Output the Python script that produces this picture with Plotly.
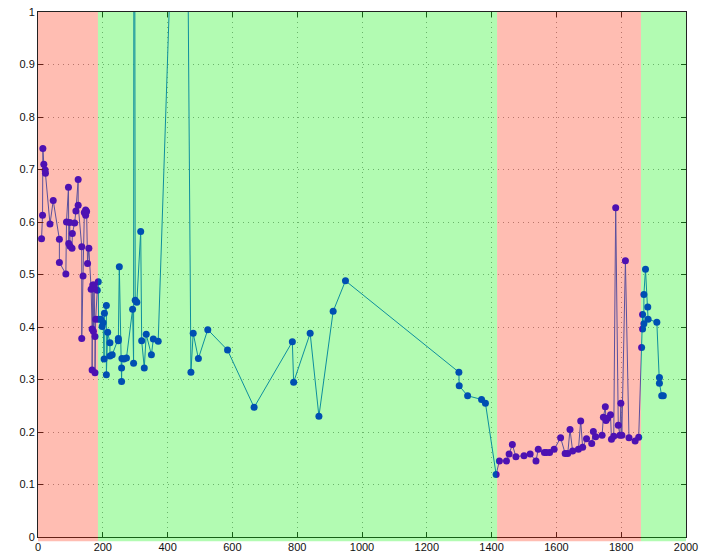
import plotly.graph_objects as go

x_vals = [11, 14, 15, 18, 22, 23, 37, 47, 66, 66, 86, 88, 94, 95, 98, 99, 105, 106, 113, 117,
          124, 124, 135, 135, 139, 143, 147, 147, 150, 153, 157, 164, 167, 167, 169, 171, 173, 176, 176, 178,
          183, 186, 187, 194, 198, 201, 204, 205, 211, 211, 215, 222, 222, 229, 248, 248, 251, 258, 258, 259,
          265, 273, 292, 295, 297, 300, 305, 317, 320, 328, 334, 350, 356, 371, 453, 472, 479, 495, 524, 585,
          667, 785, 789, 840, 867, 911, 949, 1299, 1300, 1326, 1369, 1381, 1414, 1424, 1446, 1454, 1464, 1475, 1500, 1519,
          1537, 1544, 1563, 1569, 1579, 1593, 1613, 1627, 1635, 1642, 1650, 1668, 1675, 1681, 1693, 1709, 1714, 1721, 1741, 1745,
          1751, 1753, 1758, 1767, 1770, 1777, 1783, 1791, 1796, 1799, 1802, 1813, 1824, 1843, 1854, 1863, 1866, 1866, 1870, 1870,
          1875, 1882, 1883, 1910, 1918, 1918, 1925, 1930]
y_vals = [0.568, 0.613, 0.740, 0.710, 0.699, 0.693, 0.596, 0.641, 0.567, 0.523, 0.501, 0.600, 0.666, 0.559, 0.599, 0.554, 0.550, 0.578, 0.598, 0.621,
          0.681, 0.632, 0.553, 0.378, 0.497, 0.618, 0.623, 0.613, 0.620, 0.521, 0.550, 0.472, 0.396, 0.318, 0.480, 0.392, 0.480, 0.382, 0.313, 0.415,
          0.470, 0.486, 0.415, 0.415, 0.401, 0.408, 0.339, 0.426, 0.441, 0.309, 0.390, 0.370, 0.345, 0.347, 0.378, 0.374, 0.515, 0.322, 0.296, 0.340,
          0.339, 0.341, 0.434, 0.331, 2.0, 0.451, 0.447, 0.582, 0.374, 0.322, 0.386, 0.347, 0.377, 0.373, 1.9, 0.314, 0.388, 0.340, 0.395, 0.356,
          0.247, 0.372, 0.295, 0.388, 0.230, 0.430, 0.488, 0.314, 0.288, 0.269, 0.262, 0.255, 0.119, 0.145, 0.145, 0.158, 0.176, 0.153, 0.155, 0.158,
          0.145, 0.167, 0.161, 0.161, 0.161, 0.167, 0.189, 0.159, 0.159, 0.205, 0.164, 0.167, 0.221, 0.171, 0.187, 0.178, 0.201, 0.191, 0.194, 0.228,
          0.248, 0.222, 0.226, 0.233, 0.186, 0.192, 0.627, 0.213, 0.194, 0.255, 0.194, 0.526, 0.189, 0.183, 0.190, 0.361, 0.424, 0.396, 0.406, 0.462,
          0.510, 0.438, 0.415, 0.409, 0.304, 0.293, 0.269, 0.269]

# shaded regimes: (start, end, colour)
region_starts = [-12, 185, 1417, 1861]
region_ends = [185, 1417, 1861, 2018]
region_colors = ["rgba(255,35,0,0.3)", "rgba(0,242,0,0.3)", "rgba(255,35,0,0.3)", "rgba(0,242,0,0.3)"]

x_ticks = list(range(0, 2001, 200))
y_ticks = [round(i * 0.1, 1) for i in range(11)]
y_tick_text = ["0", "0.1", "0.2", "0.3", "0.4", "0.5", "0.6", "0.7", "0.8", "0.9", "1"]

fig = go.Figure()
fig.add_trace(go.Scatter(
    x=x_vals, y=y_vals, mode="lines+markers",
    line=dict(color="rgb(20,100,225)", width=1),
    marker=dict(color="rgb(0,10,255)", size=7),
    showlegend=False, cliponaxis=True,
))

for x0, x1, c in zip(region_starts, region_ends, region_colors):
    fig.add_shape(type="rect", xref="x", yref="paper", x0=x0, x1=x1, y0=-0.008, y1=1,
                  fillcolor=c, line_width=0, layer="above")

axis_common = dict(showline=True, linecolor="#222", linewidth=1, mirror="ticks",
                   ticks="inside", ticklen=5, tickcolor="#222",
                   showgrid=True, gridcolor="#9a9a9a", griddash="1px,4px", gridwidth=1,
                   zeroline=False, tickfont=dict(family="Liberation Sans, Arial", size=11, color="#111"))

fig.update_xaxes(range=[0, 2000], tickvals=x_ticks, **axis_common)
fig.update_yaxes(range=[0, 1], tickvals=y_ticks, ticktext=y_tick_text, **axis_common)

fig.update_layout(width=702, height=555, margin=dict(l=38, r=16, t=12, b=18, autoexpand=False),
                  paper_bgcolor="white", plot_bgcolor="white")

fig.write_html("out.html")
